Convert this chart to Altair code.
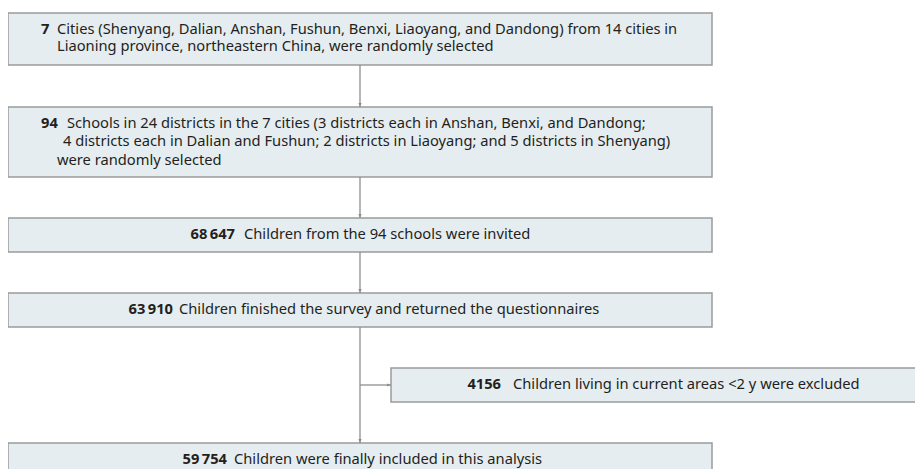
import altair as alt
import pandas as pd

# ---- content ----
numbers = ["7", "94", "68\u2009647", "63\u2009910", "4156", "59\u2009754"]
lines = [
    ["Cities (Shenyang, Dalian, Anshan, Fushun, Benxi, Liaoyang, and Dandong) from 14 cities in",
     "Liaoning province, northeastern China, were randomly selected"],
    ["Schools in 24 districts in the 7 cities (3 districts each in Anshan, Benxi, and Dandong;",
     "4 districts each in Dalian and Fushun; 2 districts in Liaoyang; and 5 districts in Shenyang)",
     "were randomly selected"],
    ["Children from the 94 schools were invited"],
    ["Children finished the survey and returned the questionnaires"],
    ["Children living in current areas <2 y were excluded"],
    ["Children were finally included in this analysis"],
]

# ---- layout (page pixels) ----
box_x1 = [8, 8, 8, 8, 391, 8]
box_x2 = [712, 712, 712, 712, 940, 712]
box_y1 = [13, 107, 218, 293, 368, 443]
box_y2 = [65, 177, 252, 327, 402, 490]

num_x = [41, 41, 235, 173, 501, 227]
num_align = ["left", "left", "right", "right", "right", "right"]
num_y = [30, 124, 235, 310, 385, 460]
text_x = [[57, 57], [67, 63, 57], [244], [179], [513], [234]]
text_y = [[30, 47], [124, 142, 161], [235], [310], [385], [460]]

spine_x = 360
seg_y1 = [65, 177, 252, 327]
seg_y2 = [107, 218, 293, 443]
branch_y = 385

boxes = pd.DataFrame({"x1": box_x1, "x2": box_x2, "y1": box_y1, "y2": box_y2})
nums = pd.DataFrame({"x": num_x, "y": num_y, "t": numbers, "a": num_align})
txt_rows = []
for i, ls in enumerate(lines):
    for j, l in enumerate(ls):
        txt_rows.append({"x": text_x[i][j], "y": text_y[i][j], "t": l})
txts = pd.DataFrame(txt_rows)
segs = pd.DataFrame({"x1": [spine_x] * 4 + [spine_x], "x2": [spine_x] * 4 + [box_x1[4]],
                     "y1": seg_y1 + [branch_y], "y2": seg_y2 + [branch_y]})
heads_down = pd.DataFrame({"x": [spine_x] * 4, "y": seg_y2})
heads_right = pd.DataFrame({"x": [box_x1[4]], "y": [branch_y]})

W, H = 907, 461
xs = alt.Scale(domain=[8, 8 + W], nice=False, zero=False)
ys = alt.Scale(domain=[8, 8 + H], nice=False, zero=False, reverse=True)
X = lambda f: alt.X(f, type="quantitative", scale=xs, axis=None)
Y = lambda f: alt.Y(f, type="quantitative", scale=ys, axis=None)

FONT = "Noto Sans"
FS = 14.7
fill = "#e6edf1"
stroke = "#9a9a9a"
arrow = "#8e8e8e"
ink = "#231f20"

rects = alt.Chart(boxes).mark_rect(fill=fill, stroke=stroke, strokeWidth=1.5, clip=True).encode(
    x=X("x1"), x2="x2", y=Y("y1"), y2="y2")

rules = alt.Chart(segs).mark_rule(color=arrow, strokeWidth=1.3).encode(
    x=X("x1"), x2="x2", y=Y("y1"), y2="y2")

down = alt.Chart(heads_down).mark_point(
    shape="M-0.4,-1L0.4,-1L0,0Z", filled=True, size=64, color=arrow, opacity=1).encode(
    x=X("x"), y=Y("y"))
right = alt.Chart(heads_right).mark_point(
    shape="M-1,-0.4L-1,0.4L0,0Z", filled=True, size=64, color=arrow, opacity=1).encode(
    x=X("x"), y=Y("y"))

num_left = alt.Chart(nums[nums.a == "left"]).mark_text(
    font=FONT, fontSize=FS, fontWeight="bold", align="left", baseline="middle", color=ink).encode(
    x=X("x"), y=Y("y"), text="t")
num_right = alt.Chart(nums[nums.a == "right"]).mark_text(
    font=FONT, fontSize=FS, fontWeight="bold", align="right", baseline="middle", color=ink).encode(
    x=X("x"), y=Y("y"), text="t")
body = alt.Chart(txts).mark_text(
    font=FONT, fontSize=FS, align="left", baseline="middle", color=ink).encode(
    x=X("x"), y=Y("y"), text="t")

chart = alt.layer(rects, rules, down, right, num_left, num_right, body).properties(
    width=W, height=H, padding=0, autosize=alt.AutoSizeParams(type="none")
).configure_view(stroke=None)

chart.save("out.html", embed_options={"renderer": "svg", "actions": False})
